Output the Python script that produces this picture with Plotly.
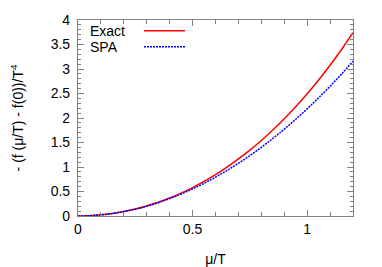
import plotly.graph_objects as go

mu_T = [0.0, 0.05, 0.1, 0.15, 0.2, 0.25, 0.3, 0.35, 0.4, 0.45, 0.5, 0.55, 0.6,
        0.65, 0.7, 0.75, 0.8, 0.85, 0.9, 0.95, 1.0, 1.05, 1.1, 1.15, 1.2]
exact = [0.0, 0.006, 0.023, 0.051, 0.091, 0.142, 0.205, 0.280, 0.368, 0.467,
         0.580, 0.705, 0.844, 0.997, 1.164, 1.345, 1.542, 1.755, 1.984, 2.230,
         2.494, 2.776, 3.077, 3.398, 3.740]
spa = [0.0, 0.006, 0.023, 0.051, 0.090, 0.140, 0.200, 0.272, 0.356, 0.448,
       0.553, 0.667, 0.793, 0.929, 1.076, 1.233, 1.402, 1.582, 1.772, 1.974,
       2.188, 2.412, 2.649, 2.898, 3.160]

x_ticks = [0, 0.5, 1]
x_tick_text = ["0", "0.5", "1"]
y_ticks = [0, 0.5, 1, 1.5, 2, 2.5, 3, 3.5, 4]
y_tick_text = ["0", "0.5", "1", "1.5", "2", "2.5", "3", "3.5", "4"]
legend_names = ["Exact", "SPA"]
colors = ["#ff0000", "#0000ff"]

FONT = "Liberation Sans, Arial, sans-serif"
AXIS_COL = "#808080"
DOT = "2px,1px"

fig = go.Figure()
fig.add_trace(go.Scatter(x=mu_T, y=exact, mode="lines", name=legend_names[0],
                         line=dict(color=colors[0], width=1.5, shape="spline")))
fig.add_trace(go.Scatter(x=mu_T, y=spa, mode="lines", name=legend_names[1],
                         line=dict(color=colors[1], width=1.5, dash=DOT, shape="spline")))

# gnuplot-style key: text first, then line sample
key_rows = [0.945, 0.864]
for name, col, yy, dash in zip(legend_names, colors, key_rows, ["solid", DOT]):
    fig.add_annotation(x=0.036, y=yy, xref="paper", yref="paper", text=name,
                       showarrow=False, xanchor="left", yanchor="middle",
                       font=dict(family=FONT, size=14, color="#000000"))
    fig.add_shape(type="line", xref="paper", yref="paper", x0=0.24, x1=0.389,
                  y0=yy, y1=yy, line=dict(color=col, width=1.5, dash=dash))

axis_common = dict(showline=True, linecolor=AXIS_COL, linewidth=1.2, mirror="allticks",
                   ticks="inside", tickcolor=AXIS_COL, tickwidth=1, ticklen=6,
                   showgrid=False, zeroline=False, automargin=False,
                   tickfont=dict(family=FONT, size=14, color="#000000"))

fig.update_xaxes(range=[0, 1.2], tickvals=x_ticks, ticktext=x_tick_text,
                 minor=dict(ticks="inside", dtick=0.1, tick0=0, ticklen=4,
                            tickcolor=AXIS_COL, showgrid=False),
                 title=dict(text="μ/T", font=dict(family=FONT, size=14, color="#000000"),
                            standoff=18),
                 **axis_common)
fig.update_yaxes(range=[0, 4], tickvals=y_ticks, ticktext=y_tick_text,
                 minor=dict(ticks="inside", dtick=0.1, tick0=0, ticklen=3,
                            tickcolor=AXIS_COL, showgrid=False),
                 title=dict(text="- (f (μ/T) - f(0))/T<sup>4</sup>",
                            font=dict(family=FONT, size=14, color="#000000"),
                            standoff=24),
                 ticklabelstandoff=4,
                 **axis_common)

fig.update_layout(width=374, height=259, margin=dict(l=70, r=29, t=12, b=51),
                  plot_bgcolor="white", paper_bgcolor="white", showlegend=False)

fig.write_html("out.html")
